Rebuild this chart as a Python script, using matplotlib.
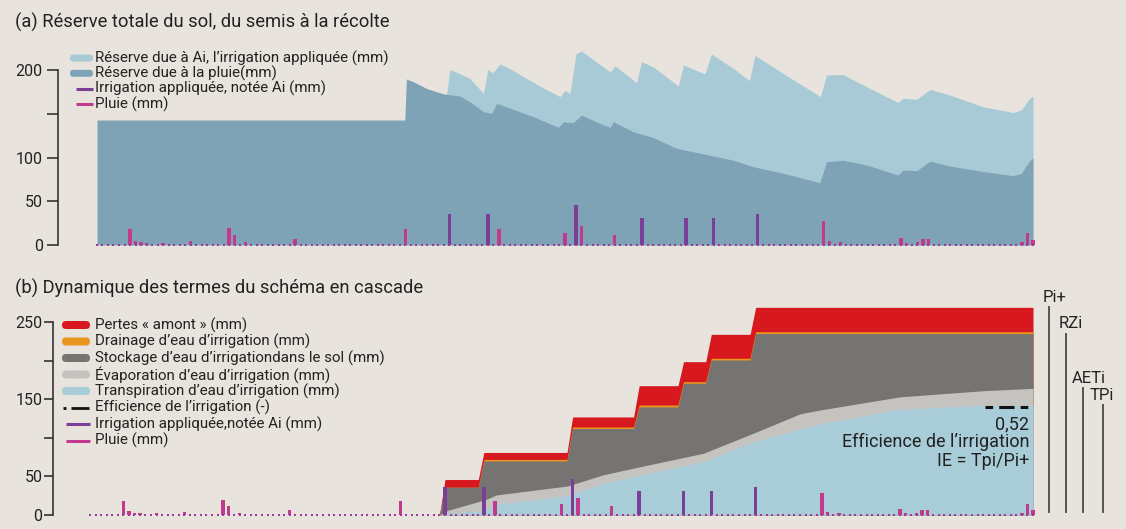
import numpy as np
import matplotlib
matplotlib.use("Agg")
import matplotlib.pyplot as plt
from matplotlib.patches import FancyBboxPatch

# ---------------- data ----------------
days = np.arange(0, 171)

rain_days = [6, 7, 8, 9, 12, 17, 24, 25, 27, 36, 56, 73, 85, 88, 94,
             132, 133, 135, 146, 147, 149, 150, 151, 168, 169, 170]
rain_mm = [18, 5, 3, 2, 2, 4, 19, 11, 3, 7, 18, 18, 14, 22, 11,
           28, 4, 3, 8, 2, 3, 7, 7, 3, 14, 6]

irr_days = [64, 71, 87, 99, 107, 112, 120]
irr_mm = [36, 36, 46, 31, 31, 31, 36]

# (a) reserve due to rain (dark) and total reserve (light top)
rain_res_days = [0, 55.9, 56.2, 57.4, 59.9, 62.9, 65.9, 67.7, 70.2, 71.7,
                 72.6, 74.4, 79.2, 83.8, 84.7, 86.5, 88.0, 91.4, 93.2, 93.8,
                 97.4, 101.0, 105.3, 109.5, 115.6, 119.2, 124.7, 131.3, 132.5, 135.5,
                 139.8, 145.5, 146.4, 148.9, 151.3, 154.9, 161.0, 166.4, 167.9, 169.4,
                 170]
rain_res_mm = [143, 143, 190, 187, 179, 173, 170.5, 164, 152.5, 150.7,
               162, 158, 147, 134.6, 141, 140, 148.7, 139, 134.6, 141,
               129.6, 123, 110.6, 105, 97, 89.6, 82, 71.3, 95.3, 97,
               91.5, 80, 85.8, 85, 96, 90.4, 84, 79.3, 82, 96.5,
               99.2]
tot_res_days = [63.5, 64.1, 65.9, 67.7, 70.2, 71.0, 71.9, 73.2, 74.9, 80.4,
                84.1, 85.0, 85.9, 87.0, 88.0, 93.2, 94.1, 98.0, 98.9, 101.0,
                105.6, 106.5, 110.4, 111.6, 115.6, 118.5, 119.5, 124.7, 131.4, 132.5,
                135.5, 139.8, 145.5, 146.4, 148.9, 151.3, 154.9, 161.0, 166.4, 167.9,
                169.4, 170]
tot_res_mm = [172, 201, 196, 190.7, 173.5, 201, 197, 207, 202, 182,
              169.7, 177, 173.5, 219, 222, 198, 205, 185.7, 209.7, 204,
              182, 206, 195.7, 218.5, 202, 188, 217, 196, 169.7, 194.5,
              195, 181, 163, 168, 166.7, 178, 171.6, 158, 151.6, 154.5,
              168, 170.5]

# (b) cascade: cumulative values after each irrigation
cum_pertes = [46, 81, 127, 167.5, 198.6, 234, 269]      # Pi+
cum_drain = [36, 72, 114, 142.5, 172.7, 203, 237.4]
cum_stock = [36, 70, 112, 140, 170.6, 200.8, 235]        # RZi
evap_days = [63, 64.5, 71.3, 73.3, 86.1, 92.5, 99.2, 110.6, 119.6, 128, 131.6, 146, 161, 170]
evap_mm = [0, 6, 20, 26, 37.6, 52, 62.6, 80, 106, 131, 136, 153, 161, 164]
transp_days = [63, 64.5, 71.3, 73.3, 86.1, 92.5, 99.2, 110.6, 119.6, 131.6, 146, 161, 170]
transp_mm = [0, 2, 6, 14, 25, 41, 52, 69, 95, 118, 137, 142, 142]
ie_final = 0.52
ie_start_day = 161.3

term_labels = ["Pi+", "RZi", "AETi", "TPi"]

# ---------------- style ----------------
BG = "#e8e4dd"
C_DARK = "#7fa3b6"
C_LIGHT = "#a8c9d6"
C_IRR = "#7a3e96"
C_RAIN = "#c13a8e"
C_DOT = "#9a3c98"
C_RED = "#d7191f"
C_ORANGE = "#e8961e"
C_STOCK = "#767472"
C_EVAP = "#c5c3c0"
C_TRANSP = "#a8ccd8"
TXT = "#222222"

plt.rcParams["font.family"] = ["Roboto", "DejaVu Sans"]

W, H = 1126, 529
fig = plt.figure(figsize=(W / 100, H / 100), dpi=100, facecolor=BG)


def px_axes(x0, x1, ytop, ybot):
    return fig.add_axes([x0 / W, 1 - ybot / H, (x1 - x0) / W, (ybot - ytop) / H])


def style_axis(ax, ymax, ticks, labels, ticklen, pad):
    for s in ["top", "right", "bottom"]:
        ax.spines[s].set_visible(False)
    ax.spines["left"].set_bounds(0, ymax)
    ax.spines["left"].set_linewidth(1.2)
    ax.spines["left"].set_color("#333333")
    ax.set_xticks([])
    ax.set_yticks(ticks)
    ax.set_yticklabels(labels)
    ax.tick_params(axis="y", direction="out", length=ticklen, width=1.2,
                   color="#333333", pad=pad, labelsize=11.5, labelcolor=TXT)
    ax.set_facecolor("none")


# ---------------- panel (a) ----------------
axa = px_axes(58, 1036, 47.5, 247.6)
axa.set_xlim(-7.08, 170.55)
axa.set_ylim(-3, 226)
axa.fill_between(tot_res_days, 0, tot_res_mm, color=C_LIGHT, lw=0, zorder=1)
axa.fill_between(rain_res_days, 0, rain_res_mm, color=C_DARK, lw=0, zorder=2)
axa.bar(rain_days, rain_mm, width=0.62, color=C_RAIN, zorder=4)
axa.bar(irr_days, irr_mm, width=0.62, color=C_IRR, zorder=4)
axa.scatter(days, np.zeros_like(days), marker="s", s=3.8, color=C_DOT, lw=0, zorder=5)
style_axis(axa, 200, [0, 50, 100, 150, 200], ["0", "50", "100", "", "200"], 8, 3)

# ---------------- panel (b) ----------------
axb = px_axes(53, 1036, 302.7, 517.3)
axb.set_xlim(-6.67, 170.54)
axb.set_ylim(-3, 275)


def step_curve(ev_days, cum, end_day):
    xs, ys, prev = [], [], 0
    for d, v in zip(ev_days, cum):
        xs += [d - 1, d]
        ys += [prev, v]
        prev = v
    xs.append(end_day)
    ys.append(prev)
    return xs, ys


for cum, col in [(cum_pertes, C_RED), (cum_drain, C_ORANGE), (cum_stock, C_STOCK)]:
    xs, ys = step_curve(irr_days, cum, days[-1])
    axb.fill_between(xs, 0, ys, color=col, lw=0, zorder=1)
axb.fill_between(evap_days, 0, evap_mm, color=C_EVAP, lw=0, zorder=2)
axb.fill_between(transp_days, 0, transp_mm, color=C_TRANSP, lw=0, zorder=3)
axb.plot([ie_start_day, days[-1]], [ie_final * cum_pertes[-1]] * 2, color="#111111",
         lw=2.2, ls=(0, (2.5, 2, 5, 2)), zorder=4)
axb.bar(rain_days, rain_mm, width=0.62, color=C_RAIN, zorder=4)
axb.bar(irr_days, irr_mm, width=0.62, color=C_IRR, zorder=4)
axb.scatter(days, np.zeros_like(days), marker="s", s=3.8, color=C_DOT, lw=0, zorder=5)
style_axis(axb, 250, [0, 50, 100, 150, 200, 250], ["0", "50", "", "150", "", "250"], 6.5, 1)

# right-hand term markers
term_tops = [cum_pertes[-1], cum_stock[-1], evap_mm[-1], transp_mm[-1]]
term_x = [172.8, 175.9, 179.0, 182.6]
term_dx = [-6, -7, -11, -13]
for lab, top, x, dx in zip(term_labels, term_tops, term_x, term_dx):
    axb.plot([x, x], [4, top], color="#555555", lw=1.4, clip_on=False, zorder=3)
    axb.annotate(lab, (x, top), xytext=(dx, 10), textcoords="offset pixels",
                 ha="left", va="center", fontsize=12, color=TXT, annotation_clip=False)

# ---------------- overlay (titles, legends, notes) ----------------
ov = fig.add_axes([0, 0, 1, 1], zorder=10)
ov.set_xlim(0, W)
ov.set_ylim(H, 0)
ov.axis("off")
ov.set_facecolor("none")

ov.text(15, 22, "(a) Réserve totale du sol, du semis à la récolte", fontsize=13.2,
        color=TXT, va="center", ha="left")
ov.text(15, 288, "(b) Dynamique des termes du schéma en cascade", fontsize=13.2,
        color=TXT, va="center", ha="left")


def leg_patch(x0, x1, yc, h, col):
    ov.add_patch(FancyBboxPatch((x0, yc - h / 2), x1 - x0, h,
                                boxstyle=f"round,pad=0,rounding_size={h / 2}",
                                fc=col, ec="none"))


def leg_line(x0, x1, yc, col, lw=2.2):
    ov.plot([x0, x1], [yc, yc], color=col, lw=lw, solid_capstyle="butt")


def leg_text(x, yc, s, fs):
    ov.text(x, yc, s, fontsize=fs, color=TXT, va="center", ha="left")


# legend (a)
leg_a = [("patch", C_LIGHT, "Réserve due à Ai, l’irrigation appliquée (mm)"),
         ("patch", C_DARK, "Réserve due à la pluie(mm)"),
         ("line", C_IRR, "Irrigation appliquée, notée Ai (mm)"),
         ("line", C_RAIN, "Pluie (mm)")]
for i, (kind, col, lab) in enumerate(leg_a):
    yc = 58 + i * 15.3
    if kind == "patch":
        leg_patch(70, 93, yc, 7, col)
    else:
        leg_line(76, 93, yc, col)
    leg_text(95, yc, lab, 10.9)

# legend (b)
leg_b = [("patch", C_RED, "Pertes « amont » (mm)"),
         ("patch", C_ORANGE, "Drainage d’eau d’irrigation (mm)"),
         ("patch", C_STOCK, "Stockage d’eau d’irrigationdans le sol (mm)"),
         ("patch", C_EVAP, "Évaporation d’eau d’irrigation (mm)"),
         ("patch", C_TRANSP, "Transpiration d’eau d’irrigation (mm)"),
         ("dash", "#111111", "Efficience de l’irrigation (-)"),
         ("line", C_IRR, "Irrigation appliquée,notée Ai (mm)"),
         ("line", C_RAIN, "Pluie (mm)")]
for i, (kind, col, lab) in enumerate(leg_b):
    yc = 325 + i * 16.5
    if kind == "patch":
        leg_patch(62, 90, yc, 8, col)
    elif kind == "dash":
        leg_line(63, 66, yc, col, lw=2)
        leg_line(71, 89, yc, col, lw=2)
    else:
        leg_line(66, 90, yc, col)
    leg_text(95, yc, lab, 10.9)

# efficiency note
ov.text(1029, 424, "0,52", fontsize=13, color=TXT, ha="right", va="center")
ov.text(1029, 442, "Efficience de l’irrigation", fontsize=13, color=TXT, ha="right", va="center")
ov.text(1029, 461, "IE = Tpi/Pi+", fontsize=13, color=TXT, ha="right", va="center")

fig.savefig("out.png", dpi=100, facecolor=BG)
